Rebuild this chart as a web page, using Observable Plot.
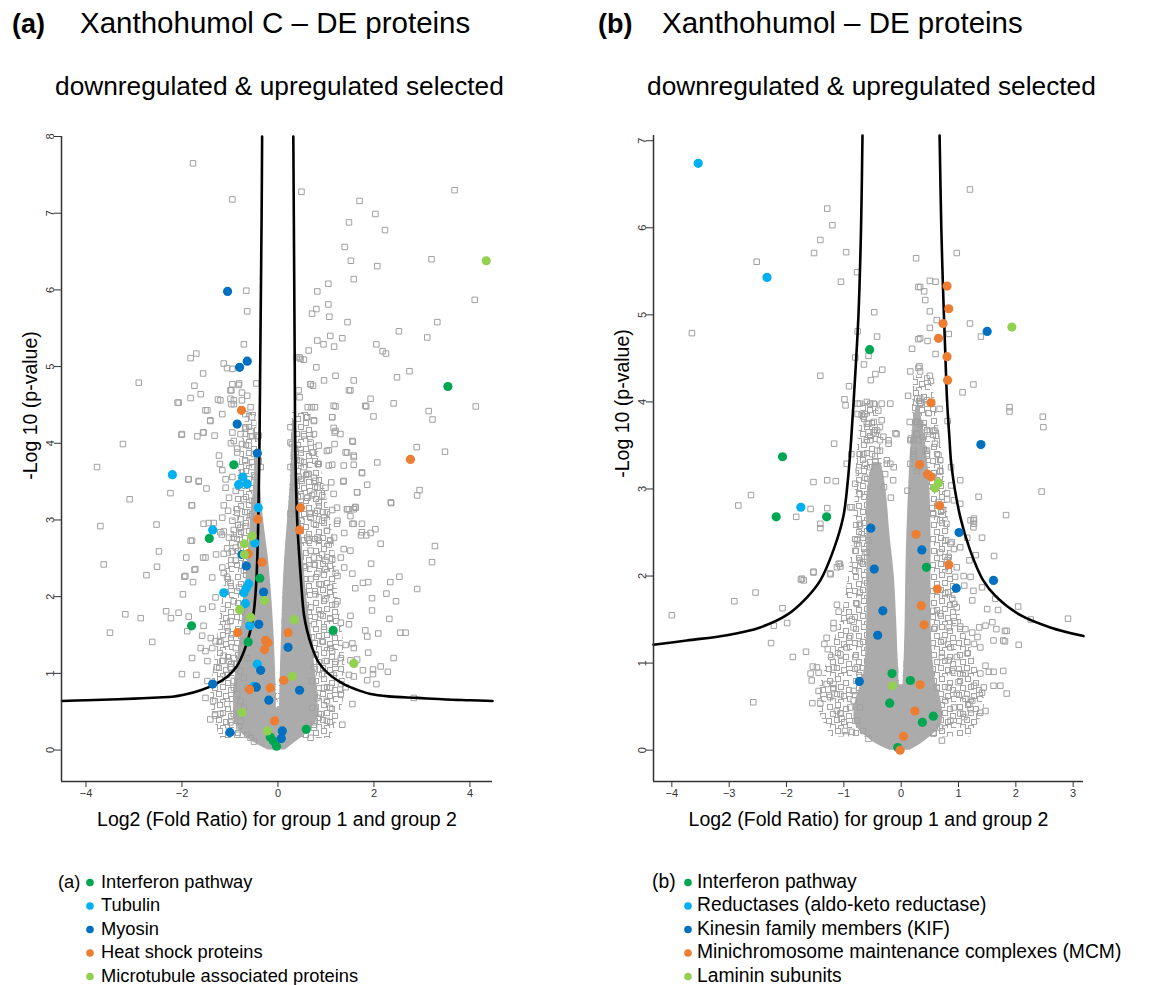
<!DOCTYPE html>
<html><head><meta charset="utf-8">
<script src="https://cdn.jsdelivr.net/npm/d3@7"></script>
<script src="https://cdn.jsdelivr.net/npm/@observablehq/plot@0.6"></script>
<style>
body{margin:0;background:#fff;}
#page{position:relative;width:1149px;height:985px;overflow:hidden;background:#fff;}
#page > svg{position:absolute;}
</style></head><body><div id="page"></div>
<script>
const FONT = '"Liberation Sans", Arial, Helvetica, sans-serif';

// ---------- text ----------
const titlesA = ["(a)", "Xanthohumol C – DE proteins", "downregulated & upregulated selected"];
const titlesB = ["(b)", "Xanthohumol – DE proteins", "downregulated & upregulated selected"];
const xLabel = "Log2 (Fold Ratio) for group 1 and group 2";
const yLabel = "-Log 10 (p-value)";
const legendNamesA = ["Interferon pathway", "Tubulin", "Myosin", "Heat shock proteins", "Microtubule associated proteins"];
const legendNamesB = ["Interferon pathway", "Reductases (aldo-keto reductase)", "Kinesin family members (KIF)", "Minichromosome maintenance complexes (MCM)", "Laminin subunits"];
const groupColors = ["#00a651", "#00b0f0", "#0070c0", "#ed7d31", "#92d050"];

// ---------- axes ----------
const xDomainA = [-4.51, 4.47], yDomainA = [-0.41, 8];
const xTicksA = [-4, -2, 0, 2, 4], yTicksA = [0, 1, 2, 3, 4, 5, 6, 7, 8];
const xDomainB = [-4.32, 3.18], yDomainB = [-0.36, 7.06];
const xTicksB = [-4, -3, -2, -1, 0, 1, 2, 3], yTicksB = [0, 1, 2, 3, 4, 5, 6, 7];

// ---------- panel (a): threshold curves ----------
const curveLeftA = [[-4.5,0.64],[-4.0,0.65],[-3.5,0.66],[-3.0,0.67],[-2.5,0.685],[-2.2,0.695],[-1.96,0.72],[-1.61,0.78],[-1.3,0.86],[-1.05,0.96],[-0.85,1.1],[-0.70,1.3],[-0.59,1.52],[-0.51,1.77],[-0.45,2.21],[-0.41,3.0],[-0.385,4.0],[-0.37,5.0],[-0.355,6.0],[-0.34,7.0],[-0.33,8.0]];
const curveRightA = [[0.32,8.0],[0.33,7.0],[0.34,6.0],[0.35,5.0],[0.36,4.0],[0.40,3.0],[0.48,2.21],[0.54,1.77],[0.61,1.55],[0.71,1.34],[0.85,1.14],[1.06,0.99],[1.37,0.86],[1.72,0.77],[1.93,0.73],[2.3,0.70],[2.9,0.68],[3.5,0.66],[4.0,0.65],[4.47,0.64]];

// dense cores of grey squares: [y, xLeft, xRight]
const coreBottomA = [[0.0,-0.2,0.15],[0.1,-0.5,0.35],[0.25,-0.8,0.65],[0.45,-0.92,0.85],[0.55,-0.92,0.85]];
const coreLeftA = [[0.45,-0.92,-0.03],[0.8,-0.92,-0.04],[1.2,-0.84,-0.06],[1.6,-0.76,-0.09],[2.0,-0.7,-0.13],[2.5,-0.63,-0.2],[3.0,-0.57,-0.3],[3.4,-0.51,-0.36],[3.8,-0.46,-0.4]];
const coreRightA = [[0.45,0.03,0.85],[0.8,0.04,0.82],[1.2,0.06,0.75],[1.6,0.08,0.68],[2.0,0.1,0.6],[2.5,0.14,0.53],[3.0,0.2,0.47],[3.5,0.26,0.42],[4.0,0.29,0.38],[4.3,0.31,0.36]];
// sparser clouds of grey squares around the cores: [y, xLeft, xRight]
const haloLeftA = [[0.15,-1.2,0],[0.6,-1.4,0],[1.0,-1.35,-0.05],[1.5,-1.25,-0.1],[2.0,-1.15,-0.15],[2.5,-1.05,-0.25],[3.0,-0.95,-0.35],[3.5,-0.85,-0.4],[4.0,-0.75,-0.42],[4.4,-0.65,-0.45]];
const haloRightA = [[0.15,0,1.1],[0.6,0,1.35],[1.0,0.05,1.4],[1.5,0.08,1.35],[2.0,0.1,1.25],[2.5,0.15,1.2],[3.0,0.2,1.1],[3.5,0.25,0.95],[4.0,0.28,0.8],[4.4,0.3,0.65]];

const greyA = [
[-1.77,7.65],[-0.95,7.18],[0.49,7.28],[-0.66,5.99],[-0.64,5.72],[0.82,5.98],[0.80,5.75],[0.71,5.69],[-0.71,5.29],[-1.82,5.11],[-1.70,5.17],[-1.13,5.04],[-1.06,4.98],[-0.95,4.97],[-1.56,4.91],[-2.90,4.79],[-0.81,4.78],[-1.74,4.75],[-0.45,4.78],[-0.99,4.69],[-0.75,4.66],[-1.61,4.64],[-1.82,4.59],[-2.09,4.53],[-1.25,4.57],[-0.99,4.58],[-0.92,4.51],[-1.47,4.43],[-1.16,4.38],[-1.41,4.30],[-1.56,4.14],[-1.68,4.09],[-2.01,4.11],[-1.32,4.10],[-0.68,4.19],[-0.57,4.09],[-0.40,4.10],[-3.23,3.99],[-3.77,3.69],[-3.09,3.27],[-2.24,3.35],[-1.87,3.53],[-1.65,3.50],[-1.49,3.41],[-1.80,3.19],[-1.21,3.73],[-1.16,3.65],[-1.09,3.53],[-0.85,3.93],[-0.98,4.0],[-0.36,3.69],
[0.45,5.12],[0.54,5.09],[0.64,5.21],[0.80,4.99],[0.68,4.77],[0.73,4.75],[0.43,4.69],[0.45,4.60],[0.62,4.47],[0.70,4.47],[0.77,4.47],[0.59,4.34],[0.75,4.30],[0.26,4.01],[0.36,3.93],[0.54,4.12],[0.75,4.12],[0.47,3.77],[0.61,3.60],[0.75,3.55],[0.50,3.51],[0.83,3.73],[0.75,3.34],[0.61,3.29],
[1.70,7.16],[2.03,6.99],[1.48,6.88],[2.23,6.78],[3.68,7.30],[1.39,6.56],[1.52,6.38],[2.07,6.31],[3.20,6.40],[1.58,6.14],[1.05,6.08],[4.10,5.87],[1.05,5.81],[1.07,5.65],[1.45,5.58],[3.32,5.58],[2.52,5.46],[1.09,5.40],[1.34,5.37],[3.11,5.38],[0.82,5.34],[0.95,5.29],[1.17,5.26],[2.05,5.29],[2.18,5.20],[2.25,5.17],[0.39,5.12],[0.47,5.10],[0.96,4.82],[1.20,4.88],[1.58,4.82],[2.48,4.86],[2.74,4.94],[1.48,4.69],[1.93,4.58],[1.84,4.48],[2.41,4.52],[1.20,4.48],[3.14,4.42],[4.12,4.48],[3.22,4.31],[1.99,4.35],[1.13,4.34],[1.16,4.20],[1.18,4.14],[1.30,4.12],[1.56,4.02],[2.89,3.95],[3.48,3.89],[1.18,3.99],[1.44,3.88],[1.58,3.82],[1.06,3.91],[0.73,3.88],[0.84,3.73],[1.13,3.72],[1.37,3.71],[1.58,3.72],[2.07,3.75],[1.75,3.61],[1.86,3.46],[1.65,3.36],[1.36,3.50],[1.11,3.49],[2.95,3.39],[2.90,3.32],[2.35,3.23],[0.82,3.42],[0.71,3.32],[0.92,3.32],[1.44,3.14],[1.58,3.14],[1.13,3.13],
[-3.70,2.92],[-3.63,2.42],[-3.50,1.53],[-3.18,1.77],[-2.86,1.72],[-2.74,2.28],[-2.62,1.41],[-2.53,2.94],[-2.52,2.39],[-2.48,2.59],[-2.33,1.81],[-2.23,1.72],[-2.07,1.79],[-2.00,0.99],[-1.98,2.03],[-1.95,2.26],[-1.91,2.51],[-1.86,1.74],[-1.79,2.73],[-1.77,2.19],[-1.74,2.35],[-1.70,0.98],[-1.79,1.20],[-1.89,1.55],[-1.56,2.51],[-1.57,1.84],[-1.58,1.49],[-1.55,1.62],[-1.51,0.68],[-1.44,2.96],[-1.34,2.96],[-1.29,2.55],[-1.37,2.25],[-1.30,1.99],[-1.37,1.87],[-1.40,1.46],[-1.30,1.42],[-1.20,1.42],[-1.35,0.64],[-1.41,0.40],[-1.31,0.45],[-1.20,0.92],[-1.06,0.98],[-0.92,0.90],[-1.13,1.23],[-1.02,1.16],[-0.92,1.20],[-1.16,2.38],[-1.13,2.31],[-1.06,2.26],[-0.99,2.18],[-1.06,2.63],[-0.96,2.59],[-1.17,2.81],[-1.13,2.85],[-0.92,2.87],[-0.81,2.81],[-0.92,2.77],[-0.99,1.68],[-1.06,1.60],[-0.96,1.51],[-0.85,1.12],[-0.78,1.03],[-0.85,0.73],[-0.78,0.64],[-0.92,0.47],[-0.78,0.38],[-0.64,0.20],[-0.57,0.16],[-0.99,0.36],[-0.81,0.31],[-1.02,0.25],
[-1.04,3.12],[-0.78,3.01],[-0.57,3.05],[-0.68,2.92],[-0.78,2.68],[-0.88,2.47],[-0.71,2.34],[-0.81,2.12],[-0.92,1.94],[-0.75,1.81],[-0.64,1.68],[-0.81,1.55],[-0.71,1.42],[-0.88,1.33],[-0.64,1.20],[-0.99,1.08],[-0.71,0.94],[-0.92,0.81],[-0.64,0.81],[-1.06,0.60],[-0.71,0.55],[-0.85,0.20],[-0.50,0.11],[-1.2,0.47],[-1.16,1.16],[-1.27,1.08],[-1.47,1.16],[-1.37,1.33],[-1.51,1.29],[-1.61,1.33],[-1.47,0.90],
[3.27,2.66],[3.21,2.45],[2.90,2.10],[2.53,2.26],[2.34,2.19],[2.46,1.94],[2.36,3.22],[2.14,2.69],[1.94,2.43],[1.88,2.19],[1.77,2.18],[1.61,2.11],[2.03,2.88],[1.93,2.83],[1.84,2.80],[1.73,2.80],[1.75,2.95],[1.61,3.17],[1.48,3.14],[1.51,3.05],[1.96,1.98],[1.96,1.82],[2.32,1.71],[2.26,2.04],[2.55,1.53],[2.66,1.53],[2.09,1.52],[1.82,1.56],[1.86,1.48],[2.41,1.20],[2.14,1.09],[2.29,1.02],[1.98,1.05],[1.98,0.99],[1.77,1.04],[1.88,1.27],[2.83,0.68],[1.86,0.91],[2.05,0.86],[1.55,0.60],[1.34,0.33],[1.31,0.86],[1.41,0.82],[1.31,0.73],[1.48,0.98],[1.58,0.96],[1.51,1.17],[1.65,1.18],[1.31,1.20],[1.41,1.37],[1.55,1.39],[1.58,1.33],[1.48,1.64],[1.31,1.66],[1.51,1.75],[1.24,1.94],[1.24,2.27],[1.38,2.38],[1.31,2.51],[1.51,2.60],[1.17,2.77],[1.38,2.83],[1.24,2.99],[1.58,2.95],[1.09,0.81],[1.02,0.64],[0.89,0.47],[1.02,0.38],[0.75,0.29],[0.68,0.16],[1.09,0.55],[1.16,0.98],[1.20,1.15],[1.09,1.33],
[0.68,3.08],[0.82,3.12],[0.96,3.03],[0.75,2.95],[1.02,2.86],[0.61,2.77],[0.85,2.73],[1.06,2.68],[0.68,2.60],[0.92,2.55],[1.13,2.49],[0.75,2.42],[0.99,2.36],[1.20,2.31],[0.68,2.23],[0.89,2.16],[1.09,2.12],[0.78,2.03],[0.99,1.97],[1.20,1.90],[0.68,1.86],[0.89,1.77],[1.09,1.71],[0.75,1.64],[0.96,1.57],[1.16,1.53],[0.71,1.47],[0.92,1.42],[1.13,1.29],[0.78,1.25],[0.99,1.16],[0.75,1.08],[0.92,0.99],[0.71,0.90],[0.96,0.81],[0.82,0.68],[0.71,0.55],[0.85,0.42],[0.75,0.33],
[-0.95,4.77],[-0.82,4.76],[-0.97,4.69],[-0.64,4.62],[-0.92,4.56],[-0.75,4.56],[-0.97,4.51],[-0.57,4.47],[-0.68,4.38],[-0.54,4.34],[-0.68,4.21],[-0.57,4.16],[-0.95,4.14],[-0.78,4.12],[-0.92,4.03],[-0.75,3.99],[-0.61,3.97],[-0.85,3.88],[-0.50,3.86],[-0.68,3.77],[-0.54,3.69],[-0.75,3.62],[-0.95,3.56],[-1.09,3.42],[-0.88,3.38],[-1.02,3.29],[-0.71,3.27],[-0.54,3.25],[-1.13,3.19],[-0.85,3.14],[-0.64,3.10],[-1.16,3.03],[-0.95,2.99],[-0.78,2.90],[-1.20,2.84],[-1.02,2.77],[-0.88,2.64],[-1.13,2.56],[-1.55,2.95],[-1.51,2.51],[-1.79,3.19],[-2.0,4.12],[-2.07,4.53],[-1.51,4.43],[-1.20,4.56],[-1.41,4.29],[-1.55,4.14],[-1.23,3.84],[-1.65,3.51],[-1.86,3.53],[-1.82,2.73],[-1.93,2.27],[-1.72,2.36],[-0.47,3.56],[-0.42,4.08],[-0.40,3.77],
[0.68,4.77],[1.16,4.49],[1.51,4.69],[1.82,4.49],[0.61,4.34],[1.13,4.34],[0.75,4.29],[1.20,4.16],[1.55,4.03],[0.68,4.01],[0.85,3.97],[0.47,3.92],[0.71,3.88],[1.02,3.90],[1.41,3.88],[1.58,3.84],[0.85,3.73],[1.06,3.71],[0.54,3.69],[0.64,3.60],[1.37,3.51],[1.75,3.62],[1.65,3.36],[1.16,3.34],[0.99,3.42],[0.78,3.51],[0.61,3.29],[0.85,3.23],[1.23,3.16],[1.44,3.14],[1.62,3.16],[1.02,3.10],[0.68,3.03],[0.92,2.99],[1.23,2.95],[1.55,2.95],[1.75,2.84],[0.82,2.77],[0.64,2.73],[1.09,2.73],[1.37,2.62],[0.75,2.51],[0.99,2.47],[1.55,2.30],[0.57,2.38],[0.82,2.30],
[0.26,4.21],[0.29,3.99],[0.36,3.82],[0.26,3.69],[0.43,3.56],[0.33,3.42],[0.47,3.31],[0.26,3.08],[0.49,2.99]
];

// coloured proteins (a)
const interferonA = [[3.54,4.74],[-0.92,3.72],[-1.43,2.76],[-1.80,1.62],[-0.38,2.24],[-0.62,1.41],[1.15,1.56],[0.59,0.27],[-0.16,0.17],[-0.10,0.12],[-0.03,0.05]];
const tubulinA = [[-2.2,3.59],[-0.73,3.56],[-0.82,3.46],[-0.64,3.47],[-0.41,3.16],[-1.36,2.87],[-0.48,2.70],[-0.73,2.55],[-1.13,2.05],[-0.61,2.17],[-0.66,2.11],[-0.71,2.05],[-0.68,1.91],[-0.59,1.62],[-0.43,1.12],[-0.50,0.83]];
const myosinA = [[-1.05,5.98],[-0.80,4.99],[-0.64,5.07],[-0.85,4.25],[-0.43,3.87],[-0.75,2.55],[-0.66,2.40],[-0.30,2.06],[-0.40,1.64],[0.21,1.34],[-0.36,1.04],[-0.45,0.82],[-1.36,0.86],[0.45,0.78],[-0.19,0.65],[-1.0,0.23],[0.09,0.25],[0.07,0.15]];
const heatShockA = [[2.76,3.79],[-0.76,4.43],[-0.42,3.01],[0.47,3.16],[0.45,2.87],[-0.33,2.45],[-0.62,2.56],[-0.84,1.53],[0.21,1.53],[-0.26,1.43],[-0.21,1.40],[-0.28,1.31],[0.12,0.91],[-0.16,0.81],[-0.59,0.79],[-0.07,0.38]];
const microtubuleA = [[4.34,6.38],[-0.54,2.79],[-0.70,2.69],[-0.70,2.55],[-0.28,1.95],[-0.80,1.83],[-0.57,1.73],[0.34,1.70],[1.58,1.13],[0.30,0.96],[-0.75,0.49],[-0.22,0.25]];

// ---------- panel (b) ----------
const curveLeftB = [[-4.32,1.21],[-3.74,1.26],[-3.04,1.32],[-2.46,1.41],[-2.0,1.55],[-1.65,1.75],[-1.41,1.95],[-1.18,2.30],[-1.01,2.68],[-0.93,3.1],[-0.88,3.5],[-0.83,4.0],[-0.745,5.0],[-0.70,6.0],[-0.675,7.06]];
const curveRightB = [[0.67,7.06],[0.70,6.0],[0.73,5.3],[0.77,4.55],[0.80,4.02],[0.84,3.6],[0.88,3.25],[1.03,2.68],[1.20,2.30],[1.43,1.95],[1.66,1.76],[2.08,1.55],[2.6,1.41],[3.18,1.31]];

const coreBottomB = [[0.0,-0.2,0.15],[0.1,-0.5,0.4],[0.3,-0.8,0.7],[0.55,-0.8,0.7],[0.75,-0.7,0.62]];
const coreLeftB = [[0.7,-0.7,-0.03],[1.0,-0.63,-0.05],[1.5,-0.6,-0.08],[2.0,-0.6,-0.12],[2.5,-0.6,-0.2],[2.9,-0.6,-0.25],[3.15,-0.55,-0.3],[3.3,-0.5,-0.35]];
const coreRightB = [[0.7,0.03,0.62],[1.0,0.05,0.56],[1.5,0.07,0.52],[2.0,0.08,0.52],[2.5,0.1,0.52],[3.0,0.13,0.5],[3.5,0.17,0.43],[3.8,0.22,0.36],[3.95,0.26,0.32]];
const haloLeftB = [[0.15,-1.2,0],[0.5,-1.45,0],[1.0,-1.3,-0.05],[1.5,-1.05,-0.1],[2.0,-0.92,-0.15],[2.5,-0.84,-0.25],[3.0,-0.8,-0.3],[3.5,-0.76,-0.35],[4.0,-0.68,-0.4]];
const haloRightB = [[0.15,0,1.2],[0.5,0,1.45],[1.0,0.05,1.3],[1.5,0.08,1.05],[2.0,0.1,0.92],[2.5,0.12,0.84],[3.0,0.15,0.78],[3.5,0.18,0.7],[4.0,0.2,0.6],[4.3,0.22,0.5]];

const greyB = [
[-3.65,4.79],[-2.52,5.61],[-1.29,6.22],[-1.20,6.03],[-1.41,5.86],[-1.52,5.71],[-0.96,5.72],[-1.05,5.38],[-0.77,5.49],[-0.47,5.03],[-0.42,4.75],[-0.76,4.81],[-0.80,4.51],[-0.57,4.53],[-0.65,4.43],[-0.45,4.32],[-0.53,4.25],[-0.33,4.37],[-1.41,4.30],[-0.91,4.18],[-0.99,4.03],[-0.97,3.96],[-0.76,3.98],[-0.60,4.00],[-0.48,3.98],[-0.34,3.98],[-0.19,3.98],[-0.76,3.86],[-0.69,3.85],[-0.63,3.86],[-0.60,3.75],[-0.48,3.77],[-0.34,3.79],[-0.57,3.65],[-0.42,3.67],[-0.37,3.56],[-0.54,3.56],[-0.42,3.44],[-0.08,3.63],[-1.17,3.52],[-1.53,3.08],[-1.29,3.10],[-1.14,3.09],[-2.62,2.93],[-2.84,2.81],[-1.58,2.77],[-1.29,2.78],[-1.83,2.68],[-0.95,3.29],[-0.87,3.40],[-0.72,3.40],[-0.80,3.06],[-0.89,2.79],[-0.72,2.94],[-0.63,3.13],[-0.74,3.21],[-0.25,3.33],[-0.19,3.29],[-0.28,3.17],[-0.14,3.10],[-0.30,3.02],[-0.18,2.90],
[0.26,5.65],[0.30,5.32],[0.19,4.61],[0.30,4.72],[0.16,4.35],[0.30,4.39],[0.12,4.07],[0.28,4.04],[0.15,3.77],[0.28,3.77],[0.17,3.58],[0.30,3.56],[0.22,3.44],[0.22,3.37],[0.30,3.25],[0.11,2.98],
[1.20,6.44],[0.97,5.71],[0.50,5.39],[0.60,5.38],[0.33,5.32],[0.40,5.27],[0.42,5.17],[0.50,5.04],[0.62,4.94],[0.50,4.85],[0.83,4.78],[0.33,4.73],[0.46,4.70],[0.60,4.55],[1.20,4.90],[1.39,4.75],[0.32,4.41],[0.33,4.35],[0.50,4.30],[0.52,4.24],[1.26,4.20],[1.07,4.11],[0.33,4.04],[0.34,3.99],[0.67,3.92],[0.48,3.87],[1.89,3.94],[1.89,3.89],[2.47,3.83],[2.48,3.71],[0.81,3.78],[0.27,3.77],[0.33,3.74],[0.39,3.71],[0.27,3.64],[0.21,3.56],[0.59,3.67],[0.61,3.61],[0.39,3.60],[0.50,3.66],[-0.10,3.64],[-0.22,3.56],[0.42,3.44],[0.45,3.40],[0.65,3.39],[0.68,3.33],[0.68,3.20],[0.56,3.14],[0.21,3.40],[0.16,3.29],[0.27,3.21],[0.87,3.25],[0.87,3.04],[2.45,2.97],[1.35,2.91],[1.83,2.70],[1.03,2.83],[0.80,2.88],[0.73,2.76],[0.54,2.78],[0.65,2.85],[1.27,2.66],
[-4.00,1.55],[-2.91,1.71],[-2.54,1.81],[-2.58,0.55],[-2.27,1.23],[-2.22,1.43],[-2.07,1.63],[-1.99,1.46],[-1.89,1.07],[-1.75,1.96],[-1.73,1.97],[-1.66,1.13],[-1.58,0.88],[-1.56,0.80],[-1.54,0.96],[-1.44,0.68],[-1.55,0.54],[-1.41,0.54],[-1.53,2.04],[-1.41,2.60],[-1.41,2.55],[-1.23,2.02],[-1.12,1.67],[-1.09,1.59],[-1.09,2.14],[-1.06,2.11],[-1.18,1.46],[-1.18,1.40],[-1.30,1.29],[-1.34,1.22],[-1.28,1.16],[-1.22,1.07],[-1.06,1.10],[-1.18,0.95],[-1.47,0.95],[-1.44,0.89],[-1.30,0.76],[-1.18,0.70],[-1.06,0.64],[-1.24,0.61],[-1.12,0.45],[-1.06,0.42],[-1.18,0.76],[-0.98,0.22],[-0.86,0.21],[-1.04,0.36],[-0.89,0.49],[-0.83,0.68],[-0.83,0.57],[-0.72,0.49],[-0.77,0.34],[-0.66,0.22],[-0.57,0.13],[-0.72,0.84],[-0.77,0.95],[-0.80,1.07],[-0.95,1.18],[-0.89,1.31],[-0.83,1.41],[-0.86,1.50],[-0.72,1.22],[-0.72,2.60],[-0.77,2.41],[-0.80,2.29],[-0.69,2.16],[-0.80,2.06],[-0.63,1.95],[-0.72,1.81],[-0.77,1.68],[-0.60,2.27],[-0.57,2.41],
[2.91,1.51],[2.04,1.65],[2.05,1.21],[2.26,1.50],[1.84,0.65],[1.62,2.23],[1.69,1.61],[1.50,1.62],[1.59,1.47],[1.66,1.39],[1.81,1.37],[1.84,1.37],[1.61,1.26],[1.78,1.26],[1.81,1.25],[1.61,0.90],[1.73,0.74],[1.78,0.91],[1.61,0.74],[1.47,0.97],[1.38,0.88],[1.53,0.90],[1.44,0.72],[1.41,0.66],[1.24,0.57],[1.27,0.74],[1.21,0.47],[1.10,0.38],[1.19,0.53],[1.38,0.43],[1.47,0.45],[1.24,1.35],[1.36,1.41],[1.47,1.43],[1.33,1.30],[1.15,1.24],[1.27,1.22],[1.38,1.18],[1.15,1.11],[0.94,1.46],[1.03,1.42],[1.12,1.39],[0.83,1.41],[0.92,1.68],[1.24,1.72],[1.10,1.89],[1.21,1.99],[1.19,2.18],[1.30,2.24],[1.27,2.60],[1.21,2.64],[0.77,2.41],[0.86,2.37],[0.68,2.27],[0.83,2.22],[0.92,2.31],[0.83,2.06],[0.94,1.99],[0.77,1.80],[0.89,1.74],[0.97,1.64],[0.68,2.64],[0.79,2.60],[0.70,2.75],[0.56,2.71],[0.56,1.60],[0.68,1.57],[0.59,1.41],[0.74,1.26],[0.86,1.18],[0.97,1.07],[0.83,1.03],[0.71,1.07],[0.89,0.91],[1.03,0.88],[1.00,0.78],[1.12,0.88],[0.97,0.65],[1.12,0.59],[0.92,0.49],[1.03,0.42],[0.86,0.34],[0.68,0.26],[0.77,0.57],[0.62,0.72],[0.83,0.72],[0.65,0.42],[0.56,0.19],[0.71,0.11],
[-0.86,2.79],[-0.72,2.58],[-0.69,2.48],[-0.77,2.37],[-0.63,2.27],[-0.72,2.18],[-1.07,2.14],[-1.12,2.10],[-1.24,2.03],[-1.53,2.05],[-1.70,1.95],[-0.63,3.29],[-0.54,3.25],[-0.45,3.31],[-0.66,3.40],[-0.51,3.40],[-0.37,3.44],[-0.60,3.56],[-0.48,3.65],[-0.37,3.71],[-0.57,3.75],[-0.66,3.83],[-0.72,3.98],[-0.54,3.98],[-0.40,3.90],[-0.31,3.60],[-0.22,3.52],[-0.25,3.29],[-0.13,3.25],
[0.16,3.56],[0.27,3.63],[0.33,3.75],[0.45,3.44],[0.56,3.67],[0.59,3.52],[0.68,3.21],[0.45,4.02],[0.33,3.98],[1.26,2.64],[1.41,2.44],[1.15,2.44],[1.03,2.33],[0.88,2.39],[0.80,2.18],[0.97,2.10],[1.09,2.00],[1.26,1.83],[1.41,1.87],[1.64,1.74],[0.92,2.87],[0.80,2.95],[1.03,3.10],[1.26,2.56]
];

// coloured proteins (b)
const interferonB = [[-0.55,4.60],[-2.07,3.37],[-2.18,2.68],[-1.30,2.68],[0.44,2.10],[-0.16,0.88],[0.16,0.80],[-0.20,0.54],[0.56,0.39],[0.37,0.32],[-0.06,0.03]];
const reductaseB = [[-3.54,6.74],[-2.34,5.43],[-1.75,2.79]];
const kinesinB = [[1.50,4.81],[1.39,3.51],[-0.53,2.55],[1.01,2.50],[0.36,2.30],[-0.47,2.08],[1.61,1.95],[0.96,1.86],[-0.32,1.60],[-0.41,1.32],[-0.73,0.79]];
const mcmB = [[0.80,5.33],[0.83,5.07],[0.73,4.90],[0.65,4.73],[0.80,4.52],[0.81,4.25],[0.52,3.99],[0.32,3.28],[0.46,3.17],[0.52,3.14],[0.67,2.81],[0.26,2.48],[0.83,2.13],[0.63,1.85],[0.35,1.66],[0.40,1.44],[0.33,0.75],[0.24,0.45],[0.04,0.16],[-0.02,0.0]];
const lamininB = [[1.93,4.86],[0.65,3.07],[0.59,3.01],[-0.15,0.74]];

// ---------- square texture used for the dense clouds ----------
const patternSquares = [[1,2],[9,0],[17,4],[4,9],[12,8],[20,11],[0,16],[8,15],[15,17],[21,20],[4,22],[12,23]];
const defs = d3.create("svg").attr("width", 0).attr("height", 0).style("position", "absolute");
const pat = defs.append("defs").append("pattern").attr("id", "sqcloud")
  .attr("width", 26).attr("height", 26).attr("patternUnits", "userSpaceOnUse");
pat.selectAll("rect").data(patternSquares).join("rect")
  .attr("x", d => d[0] + 0.5).attr("y", d => d[1] + 0.5).attr("width", 5).attr("height", 5)
  .attr("fill", "none").attr("stroke", "#a4a4a4").attr("stroke-width", 1);

// ---------- drawing ----------
function panel(p) {
  const [x0, x1] = p.xDomain, [y0, y1] = p.yDomain;
  const area = (core, fill) => Plot.areaX(core, {y: d => d[0], x1: d => d[1], x2: d => d[2], fill, curve: "catmull-rom"});
  const line = c => Plot.line(c, {x: d => d[0], y: d => d[1], stroke: "#000", strokeWidth: 2.6, curve: "catmull-rom"});
  return Plot.plot({
    width: p.width, height: 850,
    marginLeft: 61, marginRight: p.marginRight, marginTop: p.marginTop, marginBottom: 69,
    x: {domain: p.xDomain, ticks: p.xTicks, tickSize: 6, tickPadding: 2, label: null},
    y: {domain: p.yDomain, ticks: p.yTicks, tickSize: 7, tickPadding: 1, tickRotate: -90, label: null},
    style: {fontFamily: FONT, fontSize: "11px", color: "#333", background: "transparent"},
    marks: [
      ...p.halos.map(h => area(h, "url(#sqcloud)")),
      ...p.cores.map(c => area(c, "#ababab")),
      Plot.dot(p.grey, {x: d => d[0], y: d => d[1], symbol: "square", r: 3.1, stroke: "#a0a0a0", fill: "none", strokeWidth: 1}),
      line(p.curves[0]), line(p.curves[1]),
      ...p.groups.map((g, i) => Plot.dot(g, {x: d => d[0], y: d => d[1], r: 4.6, fill: groupColors[i], stroke: "none"})),
      Plot.ruleX([x0], {y1: y0, y2: y1, stroke: "#333", strokeWidth: 1.5}),
      Plot.ruleY([y0], {x1: x0, x2: x1, stroke: "#333", strokeWidth: 1.5}),
      Plot.text([xLabel], {text: d => d, frameAnchor: "bottom", dy: 38, fontSize: 19.5, fill: "#000", lineAnchor: "middle"}),
      Plot.text([yLabel], {text: d => d, frameAnchor: "top-left", dx: -31, dy: p.yLabelDy, rotate: -90, fontSize: 19.5, fill: "#000", textAnchor: "middle", lineAnchor: "middle"})
    ]
  });
}

const page = document.getElementById("page");
page.appendChild(defs.node());

const svgA = panel({
  width: 575, marginRight: 83, marginTop: 136, xDomain: xDomainA, yDomain: yDomainA, xTicks: xTicksA, yTicks: yTicksA,
  halos: [haloLeftA, haloRightA], cores: [coreBottomA, coreLeftA, coreRightA], grey: greyA, curves: [curveLeftA, curveRightA],
  groups: [interferonA, tubulinA, myosinA, heatShockA, microtubuleA], yLabelDy: 269
});
svgA.style.left = "0px"; svgA.style.top = "0px";
page.appendChild(svgA);

const svgB = panel({
  width: 557, marginRight: 66, marginTop: 135, xDomain: xDomainB, yDomain: yDomainB, xTicks: xTicksB, yTicks: yTicksB,
  halos: [haloLeftB, haloRightB], cores: [coreBottomB, coreLeftB, coreRightB], grey: greyB, curves: [curveLeftB, curveRightB],
  groups: [interferonB, reductaseB, kinesinB, mcmB, lamininB], yLabelDy: 268
});
svgB.style.left = "592px"; svgB.style.top = "0px";
page.appendChild(svgB);

// titles and legends
const ov = d3.create("svg").attr("width", 1149).attr("height", 985)
  .style("left", "0px").style("top", "0px").style("pointer-events", "none")
  .attr("font-family", FONT);

function titles(t, xTag, xTitle, xSub) {
  ov.append("text").attr("x", xTag).attr("y", 33).attr("font-size", 27).attr("font-weight", "bold").text(t[0]);
  ov.append("text").attr("x", xTitle).attr("y", 33).attr("font-size", 29.5).text(t[1]);
  ov.append("text").attr("x", xSub).attr("y", 95).attr("font-size", 26.3).text(t[2]);
}
titles(titlesA, 12, 80, 55);
titles(titlesB, 598, 662, 647);

function legend(tag, names, xTag, xDot, xText, fs) {
  const y0 = 887.5, step = 23.5;
  ov.append("text").attr("x", xTag).attr("y", y0).attr("font-size", fs).text(tag);
  names.forEach((n, i) => {
    const y = y0 + i * step;
    ov.append("circle").attr("cx", xDot).attr("cy", y - 5).attr("r", 3.8).attr("fill", groupColors[i]);
    ov.append("text").attr("x", xText).attr("y", y).attr("font-size", fs).text(n);
  });
}
legend("(a)", legendNamesA, 58, 90, 101, 18.3);
legend("(b)", legendNamesB, 652, 688, 697, 19.3);

page.appendChild(ov.node());
</script></body></html>
